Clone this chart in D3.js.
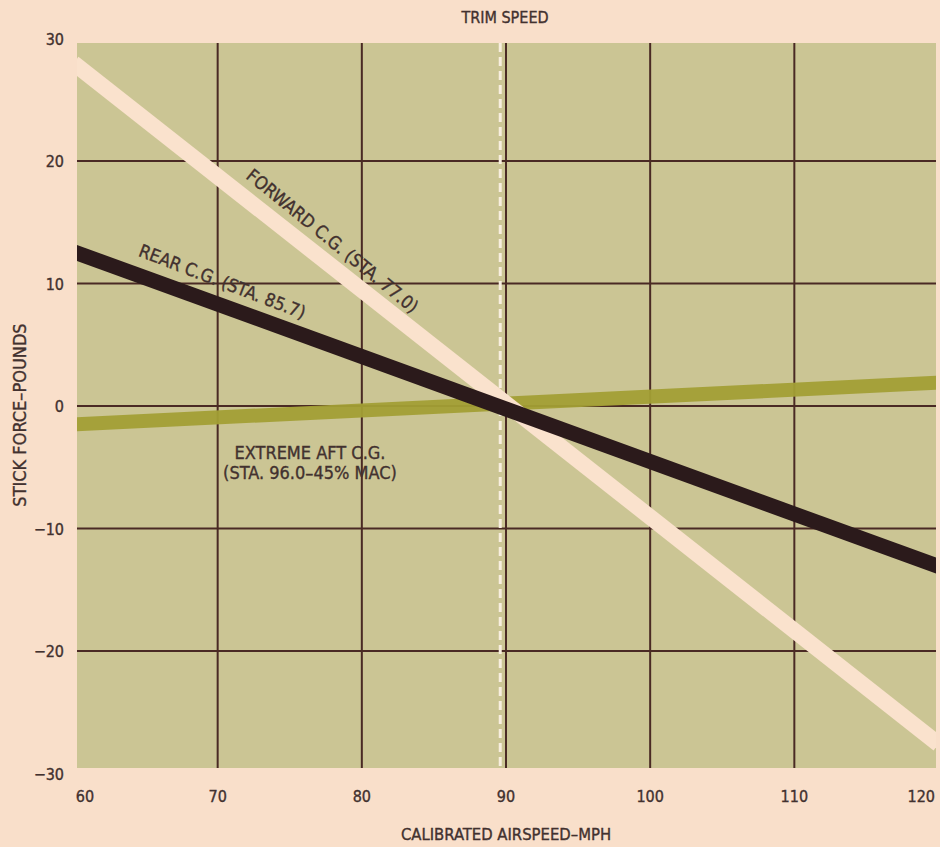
<!DOCTYPE html>
<html><head><meta charset="utf-8">
<script src="https://cdn.jsdelivr.net/npm/d3@7"></script>
<style>
html,body{margin:0;padding:0;background:#f9dfc9;}
svg{display:block;}
text{font-family:"Liberation Sans Narrow","DejaVu Sans Condensed","Roboto",sans-serif;fill:#42312f;stroke:#42312f;stroke-width:0.35px;}
</style></head><body>
<svg id="chart" width="940" height="847"></svg>
<script>
// ---- data ----
const xTicks = [60, 70, 80, 90, 100, 110, 120];
const yTicks = [30, 20, 10, 0, -10, -20, -30];
const trimSpeed = 89.6;
const forwardX = [60, 120];
const forwardY = [28.0, -27.6];
const rearX = [60, 120];
const rearY = [12.6, -13.1];
const aftX = [60, 120];
const aftY = [-1.5, 1.9];
const title = "TRIM SPEED";
const xTitle = "CALIBRATED AIRSPEED–MPH";
const yTitle = "STICK FORCE–POUNDS";
const forwardLabel = "FORWARD C.G. (STA. 77.0)";
const rearLabel = "REAR C.G. (STA. 85.7)";
const aftLabel = ["EXTREME AFT C.G.", "(STA. 96.0–45% MAC)"];

// ---- layout ----
const svg = d3.select("#chart");
const x = d3.scaleLinear().domain([60, 120]).range([73.5, 938.5]);
const y = d3.scaleLinear().domain([-30, 30]).range([773.5, 38.5]);
const plot = {left: 77, right: 936, top: 43, bottom: 768};

svg.append("rect").attr("width", 940).attr("height", 847).attr("fill", "#f9dfca");

svg.append("defs").append("clipPath").attr("id", "clip")
  .append("rect").attr("x", plot.left).attr("y", plot.top)
  .attr("width", plot.right - plot.left).attr("height", plot.bottom - plot.top);

svg.append("rect").attr("x", plot.left).attr("y", plot.top)
  .attr("width", plot.right - plot.left).attr("height", plot.bottom - plot.top)
  .attr("fill", "#cbc594");

const g = svg.append("g").attr("clip-path", "url(#clip)");

// grid
const gridColor = "#4a2a24";
g.selectAll("line.vx").data(xTicks.filter(d => d > 60 && d < 120)).join("line")
  .attr("x1", d => x(d)).attr("x2", d => x(d))
  .attr("y1", plot.top).attr("y2", plot.bottom)
  .attr("stroke", gridColor).attr("stroke-width", 2);
g.selectAll("line.hy").data(yTicks.filter(d => d > -30 && d < 30)).join("line")
  .attr("y1", d => y(d)).attr("y2", d => y(d))
  .attr("x1", plot.left - 3).attr("x2", plot.right)
  .attr("stroke", gridColor).attr("stroke-width", 2);

// trim speed dashed
g.append("line")
  .attr("x1", x(trimSpeed)).attr("x2", x(trimSpeed))
  .attr("y1", plot.top).attr("y2", plot.bottom)
  .attr("stroke", "#f8eedf").attr("stroke-width", 3).attr("stroke-dasharray", "9,5");

const line = d3.line().x(d => x(d[0])).y(d => y(d[1]));
const aftPts = d3.zip(aftX, aftY);
const fwdPts = d3.zip(forwardX, forwardY);
const rearPts = d3.zip(rearX, rearY);

g.append("path").attr("d", line(aftPts)).attr("stroke", "#a29f35").attr("stroke-width", 14).attr("fill", "none").attr("opacity", 0.95);
g.append("path").attr("d", line(fwdPts)).attr("stroke", "#fae2cd").attr("stroke-width", 16).attr("fill", "none");
g.append("path").attr("d", line(rearPts)).attr("stroke", "#2b1a1b").attr("stroke-width", 15).attr("fill", "none");

// tick labels
svg.selectAll("text.yt").data(yTicks).join("text")
  .attr("x", 64).attr("y", d => y(d) + 6)
  .attr("text-anchor", "end").attr("font-size", 16)
  .text(d => d < 0 ? "\u2212" + Math.abs(d) : d);
svg.selectAll("text.xt").data(xTicks).join("text")
  .attr("x", d => d === 60 ? 85 : d === 120 ? 935 : x(d))
  .attr("y", 802)
  .attr("text-anchor", d => d === 120 ? "end" : "middle").attr("font-size", 16)
  .text(d => d);

// titles
svg.append("text").attr("x", 505).attr("y", 23).attr("text-anchor", "middle").attr("font-size", 16).text(title);
svg.append("text").attr("x", 506).attr("y", 840).attr("text-anchor", "middle").attr("font-size", 16.5).text(xTitle);
svg.append("text").attr("transform", "translate(26,415) rotate(-90)").attr("text-anchor", "middle").attr("font-size", 18).text(yTitle);

// labels along lines
function alongLabel(pts, xv, offset, txt) {
  const p0 = [x(pts[0][0]), y(pts[0][1])], p1 = [x(pts[1][0]), y(pts[1][1])];
  const ang = Math.atan2(p1[1] - p0[1], p1[0] - p0[0]) * 180 / Math.PI;
  const t = (xv - pts[0][0]) / (pts[1][0] - pts[0][0]);
  const yv = pts[0][1] + t * (pts[1][1] - pts[0][1]);
  svg.append("text")
    .attr("transform", `translate(${x(xv)},${y(yv)}) rotate(${ang + 1})`)
    .attr("y", offset).attr("font-size", 18).text(txt);
}
alongLabel(fwdPts, 71.2, -16, forwardLabel);
alongLabel(rearPts, 64.0, -18, rearLabel);

svg.append("text").attr("x", 310).attr("y", 459).attr("text-anchor", "middle").attr("font-size", 18).text(aftLabel[0]);
svg.append("text").attr("x", 310).attr("y", 479).attr("text-anchor", "middle").attr("font-size", 18).text(aftLabel[1]);
</script>
</body></html>
